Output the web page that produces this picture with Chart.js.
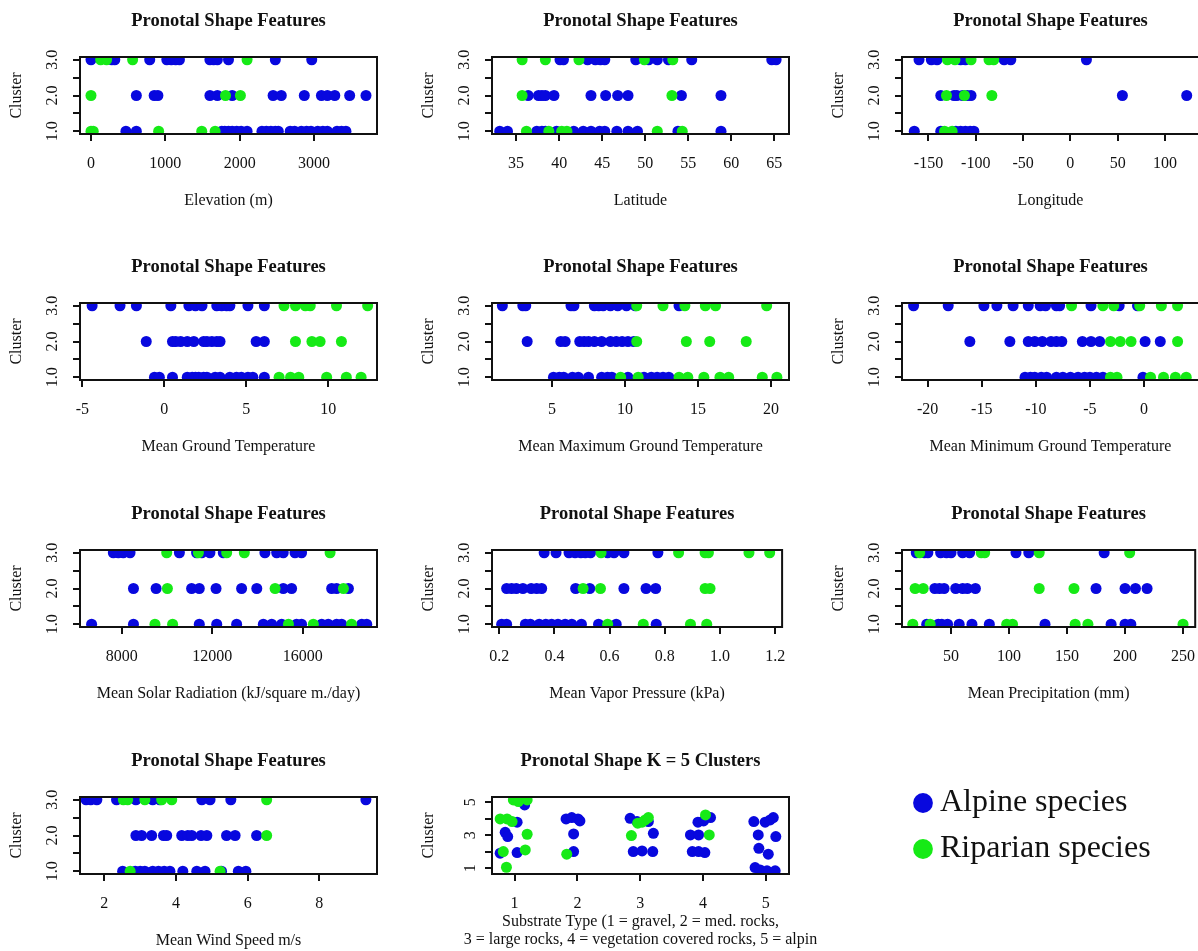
<!DOCTYPE html>
<html>
<head>
<meta charset="utf-8">
<title>Pronotal Shape Features</title>
<script src="https://cdn.jsdelivr.net/npm/chart.js@4.4.0/dist/chart.umd.min.js"></script>
<style>
  html, body { margin: 0; padding: 0; background: #fff; width: 1198px; height: 951px; overflow: hidden; position: relative; }
  canvas { position: absolute; }
</style>
</head>
<body>
<script>
// ---------- cluster axis ----------
const clusterTicks = [1, 1.5, 2, 2.5, 3];
const clusterTickLabels = ['1.0', '', '2.0', '', '3.0'];
const substrateClusterTicks = [1, 2, 3, 4, 5];
const substrateClusterTickLabels = ['1', '', '3', '', '5'];

// ---------- Elevation (m) ----------
const elevationTicks = [0, 1000, 2000, 3000];
const elevationTickLabels = ['0', '1000', '2000', '3000'];
const elevationAlpine1 = [470, 610, 1760, 1800, 1850, 1900, 1960, 2020, 2100, 2300, 2360, 2420, 2480, 2520, 2680, 2740, 2830, 2900, 2960, 3050, 3120, 3180, 3310, 3370, 3430];
const elevationAlpine2 = [610, 850, 900, 1600, 1700, 1900, 2450, 2560, 2870, 3100, 3180, 3280, 3480, 3700];
const elevationAlpine3 = [0, 280, 320, 790, 1020, 1080, 1140, 1190, 1600, 1650, 1700, 1850, 2480, 2970];
const elevationRiparian1 = [0, 30, 910, 1490, 1670];
const elevationRiparian2 = [0, 1810, 2010];
const elevationRiparian3 = [130, 210, 560, 2100];

// ---------- Latitude ----------
const latitudeTicks = [35, 40, 45, 50, 55, 60, 65];
const latitudeTickLabels = ['35', '40', '45', '50', '55', '60', '65'];
const latitudeAlpine1 = [33.1, 34.0, 37.4, 38.0, 38.4, 39.7, 41.7, 42.8, 43.7, 44.7, 45.3, 46.7, 48.0, 49.1, 53.8, 58.8];
const latitudeAlpine2 = [36.4, 37.6, 38.0, 38.4, 39.4, 43.7, 45.4, 46.8, 48.0, 54.2, 58.8];
const latitudeAlpine3 = [40.1, 40.5, 43.3, 44.2, 44.8, 45.3, 48.9, 50.4, 51.4, 52.7, 55.4, 64.7, 65.2];
const latitudeRiparian1 = [36.2, 38.8, 40.3, 40.9, 51.4, 54.3];
const latitudeRiparian2 = [35.7, 53.1];
const latitudeRiparian3 = [35.7, 38.4, 42.3, 49.9, 53.2];

// ---------- Longitude ----------
const longitudeTicks = [-150, -100, -50, 0, 50, 100];
const longitudeTickLabels = ['-150', '-100', '-50', '0', '50', '100'];
const longitudeAlpine1 = [-165, -137, -121, -116, -111, -106, -102];
const longitudeAlpine2 = [-137, -123, -120, -114, -109, -105, 55, 123];
const longitudeAlpine3 = [-160, -147, -141, -116, -111, -70, -63, 17];
const longitudeRiparian1 = [-133, -125];
const longitudeRiparian2 = [-131, -112, -83];
const longitudeRiparian3 = [-130, -122, -105, -86, -81];

// ---------- Mean Ground Temperature ----------
const groundTempTicks = [-5, 0, 5, 10];
const groundTempTickLabels = ['-5', '0', '5', '10'];
const groundTempAlpine1 = [-0.6, -0.3, 0.5, 1.4, 1.7, 1.9, 2.1, 2.4, 2.6, 3.1, 3.4, 4.0, 4.4, 4.7, 5.1, 5.4, 6.1];
const groundTempAlpine2 = [-1.1, 0.5, 0.7, 1.0, 1.4, 1.8, 2.4, 2.6, 2.9, 3.2, 3.4, 5.6, 6.1];
const groundTempAlpine3 = [-4.4, -2.7, -1.7, 0.4, 1.5, 1.9, 2.3, 3.2, 3.5, 3.8, 4.0, 5.1, 6.1];
const groundTempRiparian1 = [7.0, 7.7, 8.2, 9.9, 11.1, 12.0];
const groundTempRiparian2 = [8.0, 9.0, 9.5, 10.8];
const groundTempRiparian3 = [7.3, 8.0, 8.6, 8.9, 10.5, 12.4];

// ---------- Mean Maximum Ground Temperature ----------
const maxTempTicks = [5, 10, 15, 20];
const maxTempTickLabels = ['5', '10', '15', '20'];
const maxTempAlpine1 = [5.1, 5.5, 5.8, 6.4, 6.8, 7.5, 8.4, 8.8, 9.1, 10.2, 11.3, 11.8, 12.2, 12.6, 13.0];
const maxTempAlpine2 = [3.3, 5.6, 5.9, 6.9, 7.2, 7.5, 7.9, 8.4, 9.0, 9.4, 9.8, 10.2, 10.6];
const maxTempAlpine3 = [1.6, 3.0, 3.2, 6.3, 6.5, 7.9, 8.2, 8.5, 9.0, 9.5, 10.1, 10.7, 13.7];
const maxTempRiparian1 = [9.7, 10.9, 13.7, 14.3, 15.4, 16.5, 17.1, 19.4, 20.4];
const maxTempRiparian2 = [10.8, 14.2, 15.8, 18.3];
const maxTempRiparian3 = [10.8, 12.6, 14.1, 15.5, 16.2, 19.7];

// ---------- Mean Minimum Ground Temperature ----------
const minTempTicks = [-20, -15, -10, -5, 0];
const minTempTickLabels = ['-20', '-15', '-10', '-5', '0'];
const minTempAlpine1 = [-11.0, -10.5, -10.1, -9.5, -9.0, -8.1, -7.5, -6.8, -6.1, -5.5, -5.0, -4.4, -3.8, -0.1];
const minTempAlpine2 = [-16.1, -12.4, -10.7, -10.1, -9.4, -8.6, -8.1, -7.6, -5.7, -4.9, -4.1, 0.1, 1.5];
const minTempAlpine3 = [-21.3, -18.1, -14.8, -13.6, -12.1, -10.7, -9.6, -9.1, -8.1, -7.8, -4.9, -2.3, -0.6];
const minTempRiparian1 = [-3.1, -2.5, 0.6, 1.8, 2.9, 3.9];
const minTempRiparian2 = [-3.1, -2.2, -1.2, 3.1];
const minTempRiparian3 = [-6.7, -3.8, -2.8, -0.4, 1.6, 3.1];

// ---------- Mean Solar Radiation (kJ/square m./day) ----------
const solarTicks = [8000, 12000, 16000];
const solarTickLabels = ['8000', '12000', '16000'];
const solarAlpine1 = [6670, 8520, 11430, 12200, 13080, 14260, 14630, 15070, 15730, 15950, 16840, 17130, 17500, 17720, 18610, 18830];
const solarAlpine2 = [8520, 9520, 11090, 11430, 12170, 13300, 13970, 15140, 15510, 17280, 17500, 18020];
const solarAlpine3 = [7630, 7850, 8070, 8370, 10550, 11310, 11540, 11900, 12490, 14330, 14850, 15140, 15660, 15950];
const solarRiparian1 = [9470, 10250, 15370, 16470, 18160];
const solarRiparian2 = [10020, 14780, 17800];
const solarRiparian3 = [9990, 11390, 12640, 13420, 17210];

// ---------- Mean Vapor Pressure (kPa) ----------
const vaporTicks = [0.2, 0.4, 0.6, 0.8, 1.0, 1.2];
const vaporTickLabels = ['0.2', '0.4', '0.6', '0.8', '1.0', '1.2'];
const vaporAlpine1 = [0.209, 0.227, 0.295, 0.313, 0.345, 0.369, 0.390, 0.413, 0.439, 0.463, 0.498, 0.560, 0.624, 0.769];
const vaporAlpine2 = [0.227, 0.245, 0.262, 0.286, 0.316, 0.336, 0.354, 0.477, 0.528, 0.652, 0.732, 0.767];
const vaporAlpine3 = [0.363, 0.406, 0.453, 0.475, 0.496, 0.512, 0.531, 0.593, 0.616, 0.652, 0.775];
const vaporRiparian1 = [0.593, 0.722, 0.893, 0.952];
const vaporRiparian2 = [0.504, 0.567, 0.946, 0.964];
const vaporRiparian3 = [0.569, 0.850, 0.946, 0.958, 1.105, 1.180];

// ---------- Mean Precipitation (mm) ----------
const precipTicks = [50, 100, 150, 200, 250];
const precipTickLabels = ['50', '100', '150', '200', '250'];
const precipAlpine1 = [29, 39, 42, 47, 57, 68, 83, 131, 188, 200, 205];
const precipAlpine2 = [36, 40, 44, 54, 60, 64, 71, 175, 200, 209, 219];
const precipAlpine3 = [20, 27, 30, 41, 46, 50, 60, 66, 106, 117, 182];
const precipRiparian1 = [17, 32, 98, 103, 157, 168, 250];
const precipRiparian2 = [19, 26, 126, 156];
const precipRiparian3 = [23, 76, 79, 126, 204];

// ---------- Mean Wind Speed m/s ----------
const windTicks = [2, 4, 6, 8];
const windTickLabels = ['2', '4', '6', '8'];
const windAlpine1 = [2.51, 2.86, 3.00, 3.13, 3.35, 3.51, 3.67, 3.83, 4.19, 4.58, 4.81, 5.27, 5.74, 5.95];
const windAlpine2 = [2.88, 3.04, 3.32, 3.65, 3.74, 4.16, 4.33, 4.44, 4.70, 4.86, 5.41, 5.65, 6.25];
const windAlpine3 = [1.49, 1.62, 1.79, 2.34, 2.88, 3.35, 3.55, 4.72, 4.95, 5.53, 9.30];
const windRiparian1 = [2.72, 5.23];
const windRiparian2 = [6.53];
const windRiparian3 = [2.53, 2.65, 3.13, 3.60, 3.88, 6.53];

// ---------- Substrate type (jittered) vs K = 5 clusters ----------
const substrateTicks = [1, 2, 3, 4, 5];
const substrateTickLabels = ['1', '2', '3', '4', '5'];
const substrateAlpineX = [0.77, 0.85, 0.89, 1.04, 1.04, 1.16,
  1.82, 1.91, 2.01, 2.04, 1.94, 1.94,
  2.84, 2.95, 3.13, 3.21, 2.89, 3.03, 3.20,
  3.80, 3.93, 3.92, 4.01, 4.12, 3.83, 3.93, 4.03,
  4.81, 4.99, 5.07, 5.12, 4.88, 5.16, 4.89, 5.04, 4.83, 4.91, 5.02, 5.15];
const substrateAlpineY = [1.91, 3.18, 2.92, 3.79, 1.95, 4.84,
  3.99, 4.07, 3.99, 3.87, 3.08, 2.01,
  4.03, 3.83, 3.83, 3.12, 2.01, 2.05, 2.01,
  3.02, 3.02, 3.79, 3.87, 4.07, 2.01, 2.01, 1.95,
  3.83, 3.79, 3.93, 4.07, 3.02, 2.92, 2.21, 1.85, 1.04, 0.90, 0.84, 0.84];
const substrateRiparianX = [0.87, 0.82, 0.77, 0.88, 0.96, 0.98, 1.06, 1.20, 1.17, 1.20,
  1.83, 2.86, 2.96, 3.03, 3.08, 3.13, 4.04, 4.10];
const substrateRiparianY = [1.06, 2.01, 3.99, 3.99, 3.83, 5.14, 5.04, 3.06, 2.11, 5.14,
  1.85, 2.98, 3.73, 3.79, 3.93, 4.07, 4.23, 3.02];

const seriesNames = ['Alpine species', 'Riparian species'];

// ---------- drawing ----------
const SERIF = "'Liberation Serif', 'Times New Roman', serif";
const BLUE = 'rgb(8,8,222)';
const GREEN = 'rgb(22,234,22)';
const INK = '#111';

const PLOT_W = 297, PLOT_H = 77;
const AXIS_LEFT = 90, TOP_SPACE = 57, BOTTOM_SPACE = 80;

// box around the plotting region, drawn over the points
const framePlugin = {
  id: 'frame',
  afterDraw(chart) {
    const { ctx, chartArea: a } = chart;
    ctx.save();
    ctx.strokeStyle = INK;
    ctx.lineWidth = 2;
    ctx.strokeRect(a.left, a.top, a.right - a.left, a.bottom - a.top);
    ctx.restore();
  }
};

// two-line axis caption that may run wider than the plot
const captionPlugin = {
  id: 'caption',
  afterDraw(chart, args, opts) {
    if (!opts || !opts.lines) return;
    const { ctx, chartArea: a } = chart;
    const cx = (a.left + a.right) / 2;
    ctx.save();
    ctx.fillStyle = INK;
    ctx.font = '16px ' + SERIF;
    ctx.textAlign = 'center';
    ctx.textBaseline = 'middle';
    opts.lines.forEach((line, i) => ctx.fillText(line, cx, a.bottom + opts.first + i * opts.step));
    ctx.restore();
  }
};

function byCluster(lists) {
  return lists.flatMap((xs, i) => xs.map(x => ({ x, y: i + 1 })));
}
function zipXY(xs, ys) {
  return xs.map((x, i) => ({ x, y: ys[i] }));
}

function tickSetter(values) {
  return axis => { axis.ticks = values.map(v => ({ value: v })); };
}

function makePanel(p) {
  const rightSpace = p.rightSpace || 10;
  const cv = document.createElement('canvas');
  cv.width = AXIS_LEFT + PLOT_W + rightSpace;
  cv.height = TOP_SPACE + PLOT_H + BOTTOM_SPACE;
  cv.style.left = (p.left - AXIS_LEFT) + 'px';
  cv.style.top = (p.top - TOP_SPACE) + 'px';
  document.body.appendChild(cv);

  const pointStyle = color => ({
    backgroundColor: color, borderColor: color, borderWidth: 0,
    pointRadius: 5.5, pointHoverRadius: 5.5, pointBorderWidth: 0, clip: 0
  });

  new Chart(cv, {
    type: 'scatter',
    data: {
      datasets: [
        Object.assign({ label: seriesNames[1], data: p.riparian, order: 0 }, pointStyle(GREEN)),
        Object.assign({ label: seriesNames[0], data: p.alpine, order: 1 }, pointStyle(BLUE))
      ]
    },
    options: {
      responsive: false,
      animation: false,
      devicePixelRatio: 1,
      events: [],
      layout: { padding: { left: 0, right: rightSpace, top: 0, bottom: 0 } },
      plugins: {
        legend: { display: false },
        tooltip: { enabled: false },
        title: {
          display: true, text: p.title, fullSize: false, color: INK,
          font: { family: SERIF, size: 18.5, weight: 'bold' },
          padding: { top: 9.9, bottom: 24.9 }
        },
        caption: p.caption || {}
      },
      scales: {
        x: {
          type: 'linear', min: p.xMin, max: p.xMax,
          afterBuildTicks: tickSetter(p.xTicks),
          afterFit: s => { s.height = BOTTOM_SPACE; },
          border: { display: false },
          grid: { display: true, drawOnChartArea: false, drawTicks: true, tickLength: 7, color: INK, lineWidth: 2 },
          ticks: {
            autoSkip: false, maxRotation: 0, minRotation: 0, padding: 13.4, color: INK,
            font: { family: SERIF, size: 16 },
            callback: (v, i) => p.xLabels[i]
          },
          title: {
            display: !!p.xTitle, text: p.xTitle || '', color: INK,
            font: { family: SERIF, size: 16 },
            padding: { top: 0, bottom: 3.4 }
          }
        },
        y: {
          type: 'linear', min: p.yMin, max: p.yMax,
          afterBuildTicks: tickSetter(p.yTicks),
          afterFit: s => { s.width = AXIS_LEFT; },
          border: { display: false },
          grid: { display: true, drawOnChartArea: false, drawTicks: true, tickLength: 7, color: INK, lineWidth: 2 },
          ticks: {
            autoSkip: false, minRotation: 90, maxRotation: 90, crossAlign: 'center', padding: 10, color: INK,
            font: { family: SERIF, size: 16 },
            callback: (v, i) => p.yLabels[i]
          },
          title: {
            display: true, text: 'Cluster', color: INK,
            font: { family: SERIF, size: 16 },
            padding: { top: 17.4, bottom: 0 }
          }
        }
      }
    },
    plugins: [framePlugin, captionPlugin]
  });
}

const TITLE = 'Pronotal Shape Features';
const COL = [80, 492, 902];
const ROW = [57, 303, 550, 797];
const clusterAxis = { yMin: 0.92, yMax: 3.08, yTicks: clusterTicks, yLabels: clusterTickLabels };

makePanel(Object.assign({
  left: COL[0], top: ROW[0], title: TITLE, xTitle: 'Elevation (m)',
  xMin: -148, xMax: 3848, xTicks: elevationTicks, xLabels: elevationTickLabels,
  alpine: byCluster([elevationAlpine1, elevationAlpine2, elevationAlpine3]),
  riparian: byCluster([elevationRiparian1, elevationRiparian2, elevationRiparian3])
}, clusterAxis));

makePanel(Object.assign({
  left: COL[1], top: ROW[0], title: TITLE, xTitle: 'Latitude',
  xMin: 32.2, xMax: 66.7, xTicks: latitudeTicks, xLabels: latitudeTickLabels,
  alpine: byCluster([latitudeAlpine1, latitudeAlpine2, latitudeAlpine3]),
  riparian: byCluster([latitudeRiparian1, latitudeRiparian2, latitudeRiparian3])
}, clusterAxis));

makePanel(Object.assign({
  left: COL[2], top: ROW[0], title: TITLE, xTitle: 'Longitude',
  xMin: -178, xMax: 136, xTicks: longitudeTicks, xLabels: longitudeTickLabels,
  alpine: byCluster([longitudeAlpine1, longitudeAlpine2, longitudeAlpine3]),
  riparian: byCluster([longitudeRiparian1, longitudeRiparian2, longitudeRiparian3])
}, clusterAxis));

makePanel(Object.assign({
  left: COL[0], top: ROW[1], title: TITLE, xTitle: 'Mean Ground Temperature',
  xMin: -5.14, xMax: 12.97, xTicks: groundTempTicks, xLabels: groundTempTickLabels,
  alpine: byCluster([groundTempAlpine1, groundTempAlpine2, groundTempAlpine3]),
  riparian: byCluster([groundTempRiparian1, groundTempRiparian2, groundTempRiparian3])
}, clusterAxis));

makePanel(Object.assign({
  left: COL[1], top: ROW[1], title: TITLE, xTitle: 'Mean Maximum Ground Temperature',
  xMin: 0.89, xMax: 21.23, xTicks: maxTempTicks, xLabels: maxTempTickLabels,
  alpine: byCluster([maxTempAlpine1, maxTempAlpine2, maxTempAlpine3]),
  riparian: byCluster([maxTempRiparian1, maxTempRiparian2, maxTempRiparian3])
}, clusterAxis));

makePanel(Object.assign({
  left: COL[2], top: ROW[1], title: TITLE, xTitle: 'Mean Minimum Ground Temperature',
  xMin: -22.37, xMax: 5.08, xTicks: minTempTicks, xLabels: minTempTickLabels,
  alpine: byCluster([minTempAlpine1, minTempAlpine2, minTempAlpine3]),
  riparian: byCluster([minTempRiparian1, minTempRiparian2, minTempRiparian3])
}, clusterAxis));

makePanel(Object.assign({
  left: COL[0], top: ROW[2], title: TITLE, xTitle: 'Mean Solar Radiation (kJ/square m./day)',
  xMin: 6157, xMax: 19284, xTicks: solarTicks, xLabels: solarTickLabels,
  alpine: byCluster([solarAlpine1, solarAlpine2, solarAlpine3]),
  riparian: byCluster([solarRiparian1, solarRiparian2, solarRiparian3])
}, clusterAxis));

makePanel(Object.assign({
  left: COL[1], top: ROW[2], title: TITLE, xTitle: 'Mean Vapor Pressure (kPa)',
  xMin: 0.174, xMax: 1.225, xTicks: vaporTicks, xLabels: vaporTickLabels,
  alpine: byCluster([vaporAlpine1, vaporAlpine2, vaporAlpine3]),
  riparian: byCluster([vaporRiparian1, vaporRiparian2, vaporRiparian3])
}, clusterAxis));

makePanel(Object.assign({
  left: COL[2], top: ROW[2], title: TITLE, xTitle: 'Mean Precipitation (mm)',
  xMin: 7.7, xMax: 260.5, xTicks: precipTicks, xLabels: precipTickLabels,
  alpine: byCluster([precipAlpine1, precipAlpine2, precipAlpine3]),
  riparian: byCluster([precipRiparian1, precipRiparian2, precipRiparian3])
}, clusterAxis));

makePanel(Object.assign({
  left: COL[0], top: ROW[3], title: TITLE, xTitle: 'Mean Wind Speed m/s',
  xMin: 1.32, xMax: 9.61, xTicks: windTicks, xLabels: windTickLabels,
  alpine: byCluster([windAlpine1, windAlpine2, windAlpine3]),
  riparian: byCluster([windRiparian1, windRiparian2, windRiparian3])
}, clusterAxis));

makePanel({
  left: COL[1], top: ROW[3], rightSpace: 60,
  title: 'Pronotal Shape K = 5 Clusters', xTitle: '',
  caption: { lines: ['Substrate Type (1 = gravel, 2 = med. rocks,', '3 = large rocks, 4 = vegetation covered rocks, 5 = alpin'], first: 47.7, step: 18.3 },
  xMin: 0.64, xMax: 5.37, xTicks: substrateTicks, xLabels: substrateTickLabels,
  yMin: 0.65, yMax: 5.32, yTicks: substrateClusterTicks, yLabels: substrateClusterTickLabels,
  alpine: zipXY(substrateAlpineX, substrateAlpineY),
  riparian: zipXY(substrateRiparianX, substrateRiparianY)
});

// ---------- legend ----------
(function () {
  const cv = document.createElement('canvas');
  cv.width = 290; cv.height = 300;
  cv.style.left = '908px'; cv.style.top = '773px';
  document.body.appendChild(cv);
  new Chart(cv, {
    type: 'scatter',
    data: {
      datasets: [
        { label: seriesNames[0], data: [], backgroundColor: BLUE, borderColor: BLUE, borderWidth: 0, pointStyle: 'circle' },
        { label: seriesNames[1], data: [], backgroundColor: GREEN, borderColor: GREEN, borderWidth: 0, pointStyle: 'circle' }
      ]
    },
    options: {
      responsive: false, animation: false, devicePixelRatio: 1, events: [],
      layout: { padding: 0 },
      scales: { x: { display: false }, y: { display: false } },
      plugins: {
        tooltip: { enabled: false },
        legend: {
          display: true, position: 'top', align: 'start', maxHeight: 200,
          labels: {
            usePointStyle: true, pointStyle: 'circle', boxWidth: 2, boxHeight: 14, padding: 14,
            color: INK, font: { family: SERIF, size: 32 }
          }
        }
      }
    }
  });
})();
</script>
</body>
</html>
